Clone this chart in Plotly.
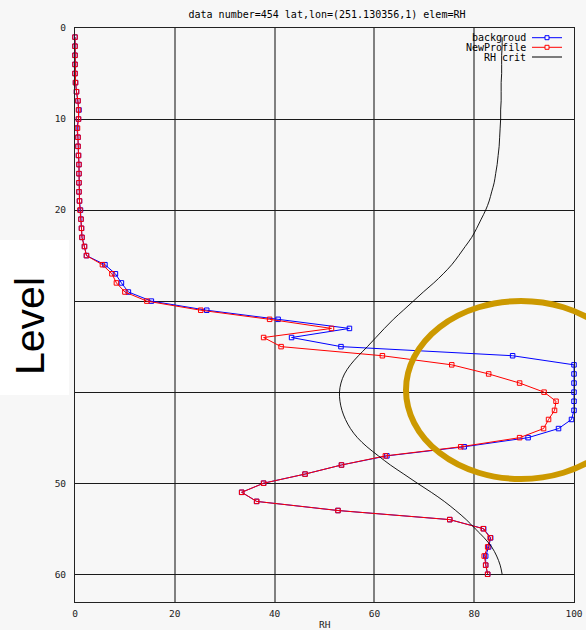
import plotly.graph_objects as go

# ---------------- data ----------------
levels = list(range(1, 61))

background_rh = [
    0.0, 0.0, 0.0, 0.0, 0.0, 0.1, 0.3, 0.6, 0.8, 0.7,
    0.35, 0.6, 0.6, 0.7, 0.8, 0.8, 0.8, 0.8, 0.9, 1.1,
    1.2, 1.3, 1.4, 1.9, 2.3, 6.0, 8.1, 9.3, 10.7, 15.3,
    26.4, 40.7, 55.0, 43.4, 53.3, 87.7, 100.0, 100.0, 100.0, 100.0,
    100.0, 100.0, 99.5, 96.9, 90.8, 78.0, 62.5, 53.4, 46.1, 37.8,
    33.4, 36.4, 52.7, 75.1, 81.9, 83.3, 82.9, 82.3, 82.3, 82.7,
]

newprofile_rh = [
    0.0, 0.0, 0.0, 0.0, 0.0, 0.1, 0.3, 0.6, 0.7, 0.7,
    0.5, 0.6, 0.6, 0.7, 0.8, 0.8, 0.8, 0.8, 0.9, 1.0,
    1.2, 1.3, 1.4, 1.9, 2.3, 5.5, 7.4, 8.3, 10.0, 14.4,
    25.2, 39.0, 51.4, 37.8, 41.3, 61.6, 75.5, 82.9, 89.1, 94.0,
    96.4, 96.1, 94.9, 93.9, 89.1, 77.3, 62.2, 53.4, 46.1, 37.8,
    33.4, 36.4, 52.7, 75.1, 81.8, 83.2, 82.7, 82.0, 82.3, 82.7,
]

rh_crit = [
    85.6, 85.6, 85.5, 85.5, 85.5, 85.4, 85.4, 85.4, 85.3, 85.3,
    85.2, 85.1, 85.0, 84.8, 84.6, 84.3, 84.0, 83.5, 83.0, 82.3,
    81.4, 80.5, 79.5, 78.2, 76.9, 75.5, 73.8, 71.9, 69.8, 67.8,
    65.8, 63.8, 62.0, 60.3, 58.6, 56.8, 55.2, 54.0, 53.3, 53.0,
    53.1, 53.5, 54.2, 55.2, 56.6, 58.5, 60.8, 63.2, 65.9, 68.6,
    71.4, 74.0, 76.3, 78.4, 80.2, 82.0, 83.5, 84.5, 85.2, 85.6,
]

x_ticks = [0, 20, 40, 60, 80, 100]
y_ticks = [0, 10, 20, 30, 40, 50, 60]
series_names = ["backgroud", "NewProfile", "RH crit"]
title_text = "data number=454 lat,lon=(251.130356,1) elem=RH"

# ---------------- layout geometry ----------------
W, H = 586, 630
L, R, T, B = 75, 12, 28, 28
PW, PH = W - L - R, H - T - B


def px_x(px):
    return (px - L) / PW


def px_y(py):
    return (H - B - py) / PH


MONO = "DejaVu Sans Mono"
BG = "#f7f7f7"

fig = go.Figure()

fig.add_trace(go.Scatter(
    x=background_rh, y=levels, mode="lines+markers", name=series_names[0],
    line=dict(color="#0000ff", width=1),
    marker=dict(symbol="square-open", size=4.5, color="#0000ff", line=dict(width=1)),
    cliponaxis=False, showlegend=False, hoverinfo="skip",
))
fig.add_trace(go.Scatter(
    x=newprofile_rh, y=levels, mode="lines+markers", name=series_names[1],
    line=dict(color="#ff0000", width=1),
    marker=dict(symbol="square-open", size=4.5, color="#ff0000", line=dict(width=1)),
    cliponaxis=False, showlegend=False, hoverinfo="skip",
))
fig.add_trace(go.Scatter(
    x=rh_crit, y=levels, mode="lines", name=series_names[2],
    line=dict(color="#000000", width=0.9, shape="spline"),
    showlegend=False, hoverinfo="skip",
))

shapes = []
annotations = []

# legend background (covers grid line)
shapes.append(dict(type="rect", xref="paper", yref="paper",
                   x0=px_x(462), x1=px_x(572), y0=px_y(62), y1=px_y(32),
                   fillcolor=BG, line=dict(width=0), layer="between"))

# manual legend: text right-aligned, sample on the right
leg_rows = [37.7, 47.3, 57.0]
leg_colors = ["#0000ff", "#ff0000", "#000000"]
for name, py, col, i in zip(series_names, leg_rows, leg_colors, range(3)):
    annotations.append(dict(text=name, xref="paper", yref="paper",
                            x=px_x(528), y=px_y(py), xanchor="right", yanchor="middle",
                            showarrow=False, font=dict(family=MONO, size=10, color="#000")))
    shapes.append(dict(type="line", xref="paper", yref="paper",
                       x0=px_x(532), x1=px_x(562), y0=px_y(py), y1=px_y(py),
                       line=dict(color=col, width=1), layer="above"))
    if i < 2:
        shapes.append(dict(type="rect", xref="paper", yref="paper",
                           x0=px_x(545), x1=px_x(549), y0=px_y(py + 2), y1=px_y(py - 2),
                           line=dict(color=col, width=1), fillcolor=BG, layer="above"))

# gold ellipse highlight
shapes.append(dict(type="circle", xref="paper", yref="paper",
                   x0=px_x(406), x1=px_x(636), y0=px_y(479), y1=px_y(301),
                   line=dict(color="#cc9900", width=6), layer="above"))

# white box with "Level"
shapes.append(dict(type="rect", xref="paper", yref="paper",
                   x0=px_x(0), x1=px_x(69), y0=px_y(395), y1=px_y(240),
                   fillcolor="#ffffff", line=dict(width=0), layer="above"))
annotations.append(dict(text="Level", xref="paper", yref="paper",
                        x=px_x(30), y=px_y(326), xanchor="center", yanchor="middle",
                        textangle=-90, showarrow=False,
                        font=dict(family="Liberation Sans", size=41, color="#000")))

# x axis title
annotations.append(dict(text="RH", xref="paper", yref="paper",
                        x=0.5, y=px_y(624), xanchor="center", yanchor="middle",
                        showarrow=False, font=dict(family=MONO, size=9.5, color="#222")))

fig.update_layout(
    width=W, height=H, autosize=False,
    margin=dict(l=L, r=R, t=T, b=B, pad=0, autoexpand=False),
    paper_bgcolor=BG, plot_bgcolor=BG,
    title=dict(text=title_text, xref="container", yref="container",
               x=327 / W, y=1 - 14 / H, xanchor="center", yanchor="middle",
               font=dict(family=MONO, size=10, color="#000")),
    shapes=shapes, annotations=annotations,
    showlegend=False, hovermode=False,
    xaxis=dict(range=[0, 100], tickvals=x_ticks, ticktext=[str(v) for v in x_ticks],
               showgrid=True, gridcolor="#808080", gridwidth=1.5, automargin=False,
               zeroline=False, showline=True, mirror=True, linecolor="#222", linewidth=1,
               ticks="", ticklabelstandoff=3,
               tickfont=dict(family=MONO, size=9.5, color="#222")),
    yaxis=dict(range=[63.05, 0], tickvals=y_ticks, ticktext=[str(v) for v in y_ticks],
               showgrid=True, gridcolor="#1a1a1a", gridwidth=1, automargin=False,
               zeroline=False, showline=True, mirror=True, linecolor="#222", linewidth=1,
               ticks="", ticklabelstandoff=6,
               tickfont=dict(family=MONO, size=9.5, color="#222")),
)

fig.write_html(
    "out.html",
    config={"displayModeBar": False, "responsive": False},
    post_script="document.body.style.margin='0px';document.body.style.background='#f7f7f7';",
)
